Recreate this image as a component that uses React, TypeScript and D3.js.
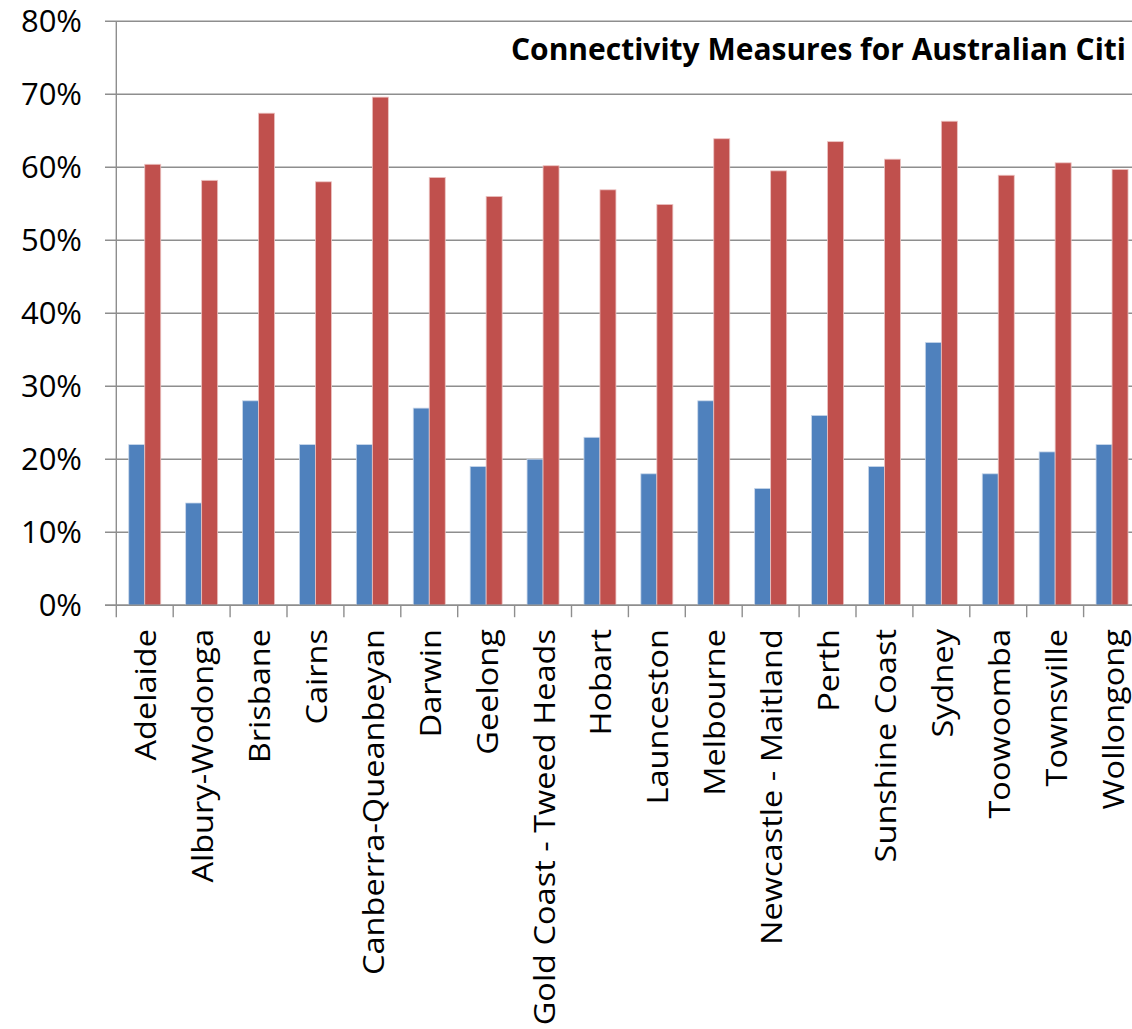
import React from "react";
import * as d3 from "d3";

// City names along the category axis
const cities = [
  "Adelaide",
  "Albury-Wodonga",
  "Brisbane",
  "Cairns",
  "Canberra-Queanbeyan",
  "Darwin",
  "Geelong",
  "Gold Coast - Tweed Heads",
  "Hobart",
  "Launceston",
  "Melbourne",
  "Newcastle - Maitland",
  "Perth",
  "Sunshine Coast",
  "Sydney",
  "Toowoomba",
  "Townsville",
  "Wollongong",
];

// First connectivity measure (percent)
const measureA = [22, 14, 28, 22, 22, 27, 19, 20, 23, 18, 28, 16, 26, 19, 36, 18, 21, 22];

// Second connectivity measure (percent)
const measureB = [
  60.4, 58.2, 67.4, 58.0, 69.6, 58.6, 56.0, 60.2, 56.9, 54.9, 63.9, 59.5, 63.5, 61.1, 66.3, 58.9,
  60.6, 59.7,
];

const yTicks = [0, 10, 20, 30, 40, 50, 60, 70, 80];

// Title as it fits inside the chart area
const title = "Connectivity Measures for Australian Citi";

const W = 1132;
const H = 1029;
const FONT = "'Open Sans', 'Liberation Sans', sans-serif";
const BLUE = "#4f81bd";
const RED = "#c0504d";
const GRID = "#8e8e8e";

export default function App() {
  const left = 116.3;
  const step = 56.9;
  const top = 21.2;
  const bottom = 605.2;

  const x = d3
    .scaleBand<string>()
    .domain(cities)
    .range([left, left + step * cities.length])
    .paddingInner(0)
    .paddingOuter(0);

  const xs = d3
    .scaleBand<string>()
    .domain(["a", "b"])
    .range([0, x.bandwidth()])
    .paddingInner(0)
    .paddingOuter(0.778);

  const y = d3.scaleLinear().domain([0, 80]).range([bottom, top]);

  const series = [
    { key: "a", values: measureA, color: BLUE, edge: "#c9d7ea" },
    { key: "b", values: measureB, color: RED, edge: "#ecc3c2" },
  ];

  return (
    <svg
      width={W}
      height={H}
      style={{ position: "absolute", left: 0, top: 0, background: "#fff" }}
      fontFamily={FONT}
    >
      <rect x={0} y={0} width={W} height={H} fill="#fff" />

      {/* horizontal gridlines with their left tick stubs */}
      {yTicks.map((t) => (
        <line
          key={"g" + t}
          x1={105}
          x2={W}
          y1={y(t)}
          y2={y(t)}
          stroke={GRID}
          strokeWidth={1.4}
        />
      ))}

      {/* y tick labels */}
      {yTicks.map((t) => (
        <text
          key={"yl" + t}
          x={82}
          y={y(t)}
          dy="0.36em"
          textAnchor="end"
          fontSize={31}
          fill="#000"
        >
          {t}%
        </text>
      ))}

      {/* y axis line */}
      <line x1={left} x2={left} y1={top} y2={bottom} stroke={GRID} strokeWidth={1.4} />

      {/* x axis tick marks at category boundaries */}
      {cities.map((c) => (
        <line
          key={"xt" + c}
          x1={x(c)!}
          x2={x(c)!}
          y1={bottom}
          y2={bottom + 12}
          stroke={GRID}
          strokeWidth={1.4}
        />
      ))}
      <line
        x1={left + step * cities.length}
        x2={left + step * cities.length}
        y1={bottom}
        y2={bottom + 12}
        stroke={GRID}
        strokeWidth={1.4}
      />

      {/* bars */}
      {series.map((s) =>
        cities.map((c, i) => {
          const bx = x(c)! + xs(s.key)!;
          const by = y(s.values[i]);
          return (
            <rect
              key={s.key + c}
              x={bx}
              y={by}
              width={xs.bandwidth()}
              height={y(0) - by}
              fill={s.color}
              stroke={s.edge}
              strokeWidth={0.8}
            />
          );
        })
      )}

      {/* x axis line */}
      <line x1={105} x2={W} y1={bottom} y2={bottom} stroke={GRID} strokeWidth={1.4} />

      {/* rotated category labels, slightly stretched along their length */}
      {cities.map((c) => {
        const cx = x(c)! + x.bandwidth() / 2;
        const cy = 629;
        return (
          <text
            key={"xl" + c}
            transform={`translate(${cx},${cy}) rotate(-90) scale(1.085,1)`}
            textAnchor="end"
            dominantBaseline="central"
            fontSize={30}
            fill="#000"
          >
            {c}
          </text>
        );
      })}

      {/* chart title */}
      <text
        x={511}
        y={60}
        fontSize={30}
        fontWeight="bold"
        fill="#000"
        textLength={615}
        lengthAdjust="spacingAndGlyphs"
      >
        {title}
      </text>
    </svg>
  );
}
